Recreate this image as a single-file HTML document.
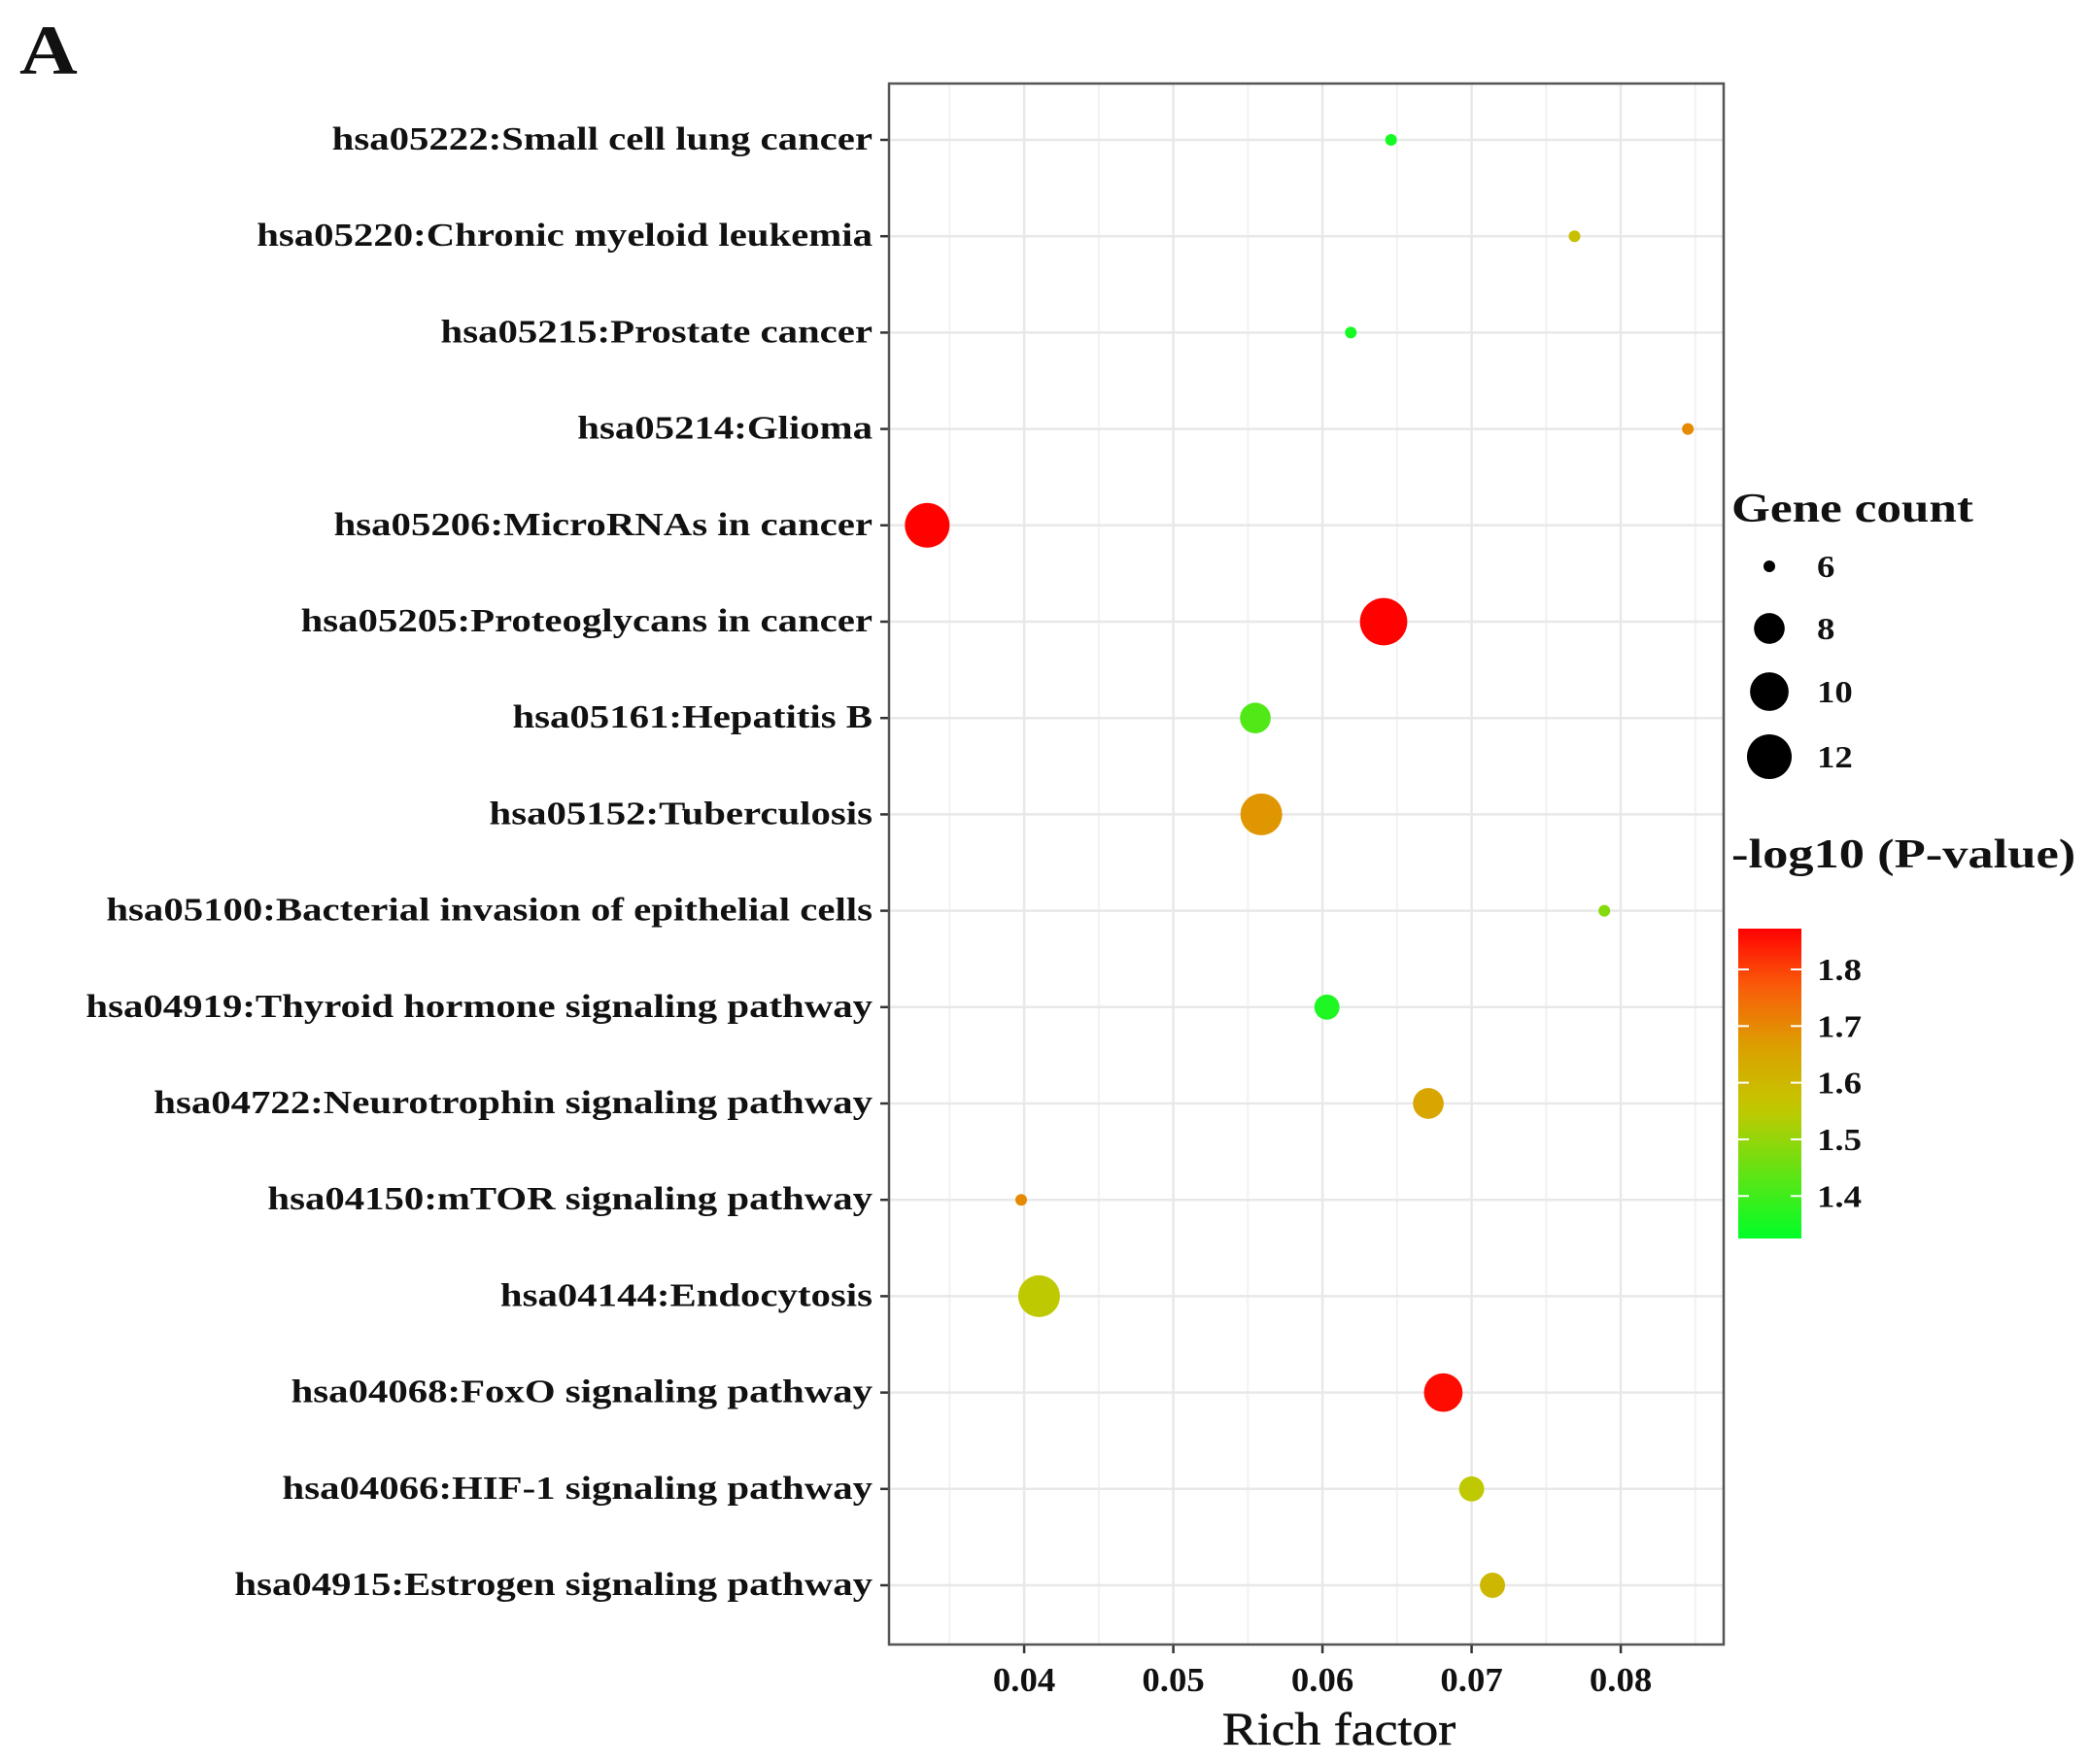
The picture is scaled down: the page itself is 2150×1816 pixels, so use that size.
<!DOCTYPE html>
<html><head><meta charset="utf-8"><style>
body{margin:0;background:#fff;}
svg text{font-family:"Liberation Serif",serif;font-weight:bold;fill:#111;}
</style></head><body>
<svg id="chart" width="2150" height="1811" viewBox="0 0 2150 1811" xmlns="http://www.w3.org/2000/svg">
<text transform="translate(20,76) scale(1.15,1)" font-size="72">A</text>
<g id="grid"></g>
<g id="ylab"></g>
<g id="xax"></g>
<g id="pts"></g>
<rect x="915" y="86" width="859" height="1607" fill="none" stroke="#555" stroke-width="2.5"/>
<text transform="translate(1378,1796) scale(1.12,1)" font-size="48" text-anchor="middle" style="font-weight:normal;stroke:#111;stroke-width:0.6">Rich factor</text>
<g id="leg"></g>
</svg>
<script>
const categories=["hsa05222:Small cell lung cancer","hsa05220:Chronic myeloid leukemia","hsa05215:Prostate cancer","hsa05214:Glioma","hsa05206:MicroRNAs in cancer","hsa05205:Proteoglycans in cancer","hsa05161:Hepatitis B","hsa05152:Tuberculosis","hsa05100:Bacterial invasion of epithelial cells","hsa04919:Thyroid hormone signaling pathway","hsa04722:Neurotrophin signaling pathway","hsa04150:mTOR signaling pathway","hsa04144:Endocytosis","hsa04068:FoxO signaling pathway","hsa04066:HIF-1 signaling pathway","hsa04915:Estrogen signaling pathway"];
const richFactor=[0.0646,0.0769,0.0619,0.0845,0.0335,0.0641,0.0555,0.0559,0.0789,0.0603,0.0671,0.0398,0.0410,0.0681,0.0700,0.0714];
const geneCount=[6,6,6,6,12,13,8,11,6,7,8,6,11,10,7,7];
const logP=[1.35,1.58,1.35,1.70,1.87,1.87,1.42,1.68,1.48,1.36,1.65,1.70,1.55,1.86,1.55,1.60];
const xTicks=[0.04,0.05,0.06,0.07,0.08];
const xTickLabels=["0.04","0.05","0.06","0.07","0.08"];
const sizeLegend=[6,8,10,12];
const colorTicks=[1.8,1.7,1.6,1.5,1.4];
const NS="http://www.w3.org/2000/svg";
const X0=915,X1=1774,Y0=86,Y1=1693;
const xmin=0.03094,xmax=0.0869;
const x=v=>X0+(v-xmin)/(xmax-xmin)*(X1-X0);
const rowTop=144,rowStep=(1632-144)/15;
const y=i=>rowTop+i*rowStep;
const r=c=>6+17*Math.sqrt(Math.max(0,c-6)/6);
const cmin=1.325,cmax=1.872;
const stops=[[0,[0,255,40]],[0.42,[195,200,0]],[0.62,[220,160,0]],[0.82,[250,90,10]],[1,[255,0,0]]];
function col(v){let t=Math.min(1,Math.max(0,(v-cmin)/(cmax-cmin)));for(let k=1;k<stops.length;k++){if(t<=stops[k][0]){const a=stops[k-1],b=stops[k],u=(t-a[0])/(b[0]-a[0]);const c=a[1].map((q,j)=>Math.round(q+(b[1][j]-q)*u));return `rgb(${c})`;}}return "rgb(255,0,0)";}
function mk(tag,at,parent){const e=document.createElementNS(NS,tag);for(const k in at)e.setAttribute(k,at[k]);parent.appendChild(e);return e;}
function txt(parent,tx,ty,sx,size,anchor,content){const e=mk('text',{transform:`translate(${tx},${ty}) scale(${sx},1)`,'font-size':size,'text-anchor':anchor},parent);e.textContent=content;return e;}
const grid=document.getElementById('grid'),ylab=document.getElementById('ylab'),xax=document.getElementById('xax'),pts=document.getElementById('pts'),leg=document.getElementById('leg');
for(let i=0;i<xTicks.length+1;i++){const v=xTicks[0]-0.005+i*0.01;if(v>xmin&&v<xmax){const l=mk('line',{x1:x(v),x2:x(v),y1:Y0,y2:Y1,stroke:'#f2f2f2','stroke-width':2},grid);}}
xTicks.forEach((v,i)=>{
 const l=mk('line',{x1:x(v),x2:x(v),y1:Y0,y2:Y1,stroke:'#e8e8e8','stroke-width':2.5},grid);
 
 const t=mk('line',{x1:x(v),x2:x(v),y1:Y1,y2:Y1+9,stroke:'#333','stroke-width':2.5},xax);
 
 const tx=txt(xax,x(v),1741,1.05,35,'middle',xTickLabels[i]);
 
});
categories.forEach((c,i)=>{
 const l=mk('line',{x1:X0,x2:X1,y1:y(i),y2:y(i),stroke:'#e8e8e8','stroke-width':2.5},grid);
 
 const t=mk('line',{x1:X0-9,x2:X0,y1:y(i),y2:y(i),stroke:'#333','stroke-width':2.5},ylab);
 
 const tx=txt(ylab,898,y(i)+10,1.2,34,'end',c);
 
 const p=mk('circle',{cx:x(richFactor[i]),cy:y(i),r:r(geneCount[i]),fill:col(logP[i])},pts);
 
});
let t1=txt(leg,1782,537,1.22,42,'start','Gene count');

const ly=[583,647,712,779];
sizeLegend.forEach((s,i)=>{
 const c=mk('circle',{cx:1821,cy:ly[i],r:r(s),fill:'#000'},leg);
 
 const t=txt(leg,1870,ly[i]+11,1.15,32,'start',String(s));
 
});
let t2=txt(leg,1782,893,1.25,42,'start','-log10 (P-value)');

const defs=mk('defs',{},leg);const g=mk('linearGradient',{id:'cg',x1:0,y1:1,x2:0,y2:0},defs);
for(let k=0;k<=20;k++){const v=cmin+(cmax-cmin)*k/20;mk('stop',{offset:k/20,'stop-color':col(v)},g);}
const CB0=956,CB1=1275;const cy=v=>CB1-(v-cmin)/(cmax-cmin)*(CB1-CB0);
const bar=mk('rect',{x:1789,y:CB0,width:65,height:CB1-CB0,fill:'url(#cg)'},leg);

colorTicks.forEach(v=>{
 const a=mk('line',{x1:1789,x2:1800,y1:cy(v),y2:cy(v),stroke:'#fff','stroke-width':2},leg);
 
 const b=mk('line',{x1:1843,x2:1854,y1:cy(v),y2:cy(v),stroke:'#fff','stroke-width':2},leg);
 
 const t=txt(leg,1870,cy(v)+11,1.15,32,'start',v.toFixed(1));
 
});
</script>
</body></html>
